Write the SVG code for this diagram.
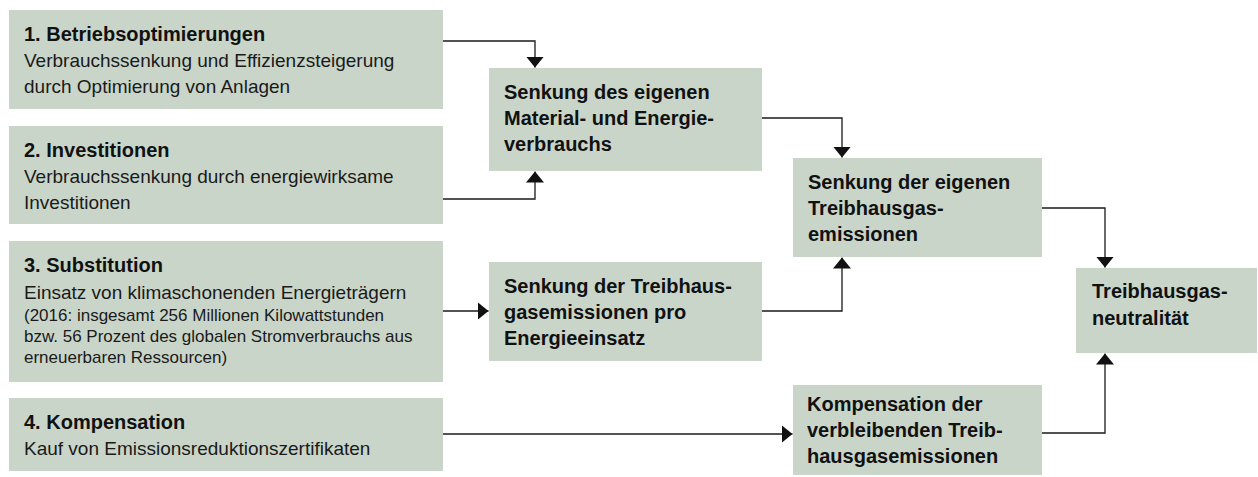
<svg xmlns="http://www.w3.org/2000/svg" width="1258" height="477" viewBox="0 0 1258 477">
<defs>
<style>
.box{fill:#c9d5c9;}
.t{font-family:"Liberation Sans",Arial,sans-serif;fill:#1a1a1a;}
.h{font-size:20px;font-weight:bold;fill:#111;}
.hr{font-size:20px;font-weight:bold;fill:#111;}
.b{font-size:19px;}
.s{font-size:17px;}
.c{fill:none;stroke:#1a1a1a;stroke-width:1.3;marker-end:url(#ah);}
</style>
<marker id="ah" markerUnits="userSpaceOnUse" markerWidth="11" markerHeight="18" refX="11" refY="9" orient="auto">
<path d="M0,0 L11,9 L0,18 Z" fill="#111"/>
</marker>
</defs>
<rect width="1258" height="477" fill="#ffffff"/>
<g id="connectors">
<path class="c" d="M443,41 H535 V67.5"/>
<path class="c" d="M443,199 H535 V171.5"/>
<path class="c" d="M443,311 H488.5"/>
<path class="c" d="M443,434 H792.5"/>
<path class="c" d="M762,118 H842 V157.5"/>
<path class="c" d="M762,311 H842 V257.5"/>
<path class="c" d="M1042,208 H1105 V267.5"/>
<path class="c" d="M1042,433 H1105 V353.5"/>
</g>
<g id="n1">
<rect class="box" x="9" y="10" width="434" height="99"/>
<text class="t h" x="24" y="40.5">1. Betriebsoptimierungen</text>
<text class="t b" x="24" y="66.5">Verbrauchssenkung und Effizienzsteigerung</text>
<text class="t b" x="24" y="92.5">durch Optimierung von Anlagen</text>
</g>
<g id="n2">
<rect class="box" x="9" y="126" width="434" height="98"/>
<text class="t h" x="24" y="156.5">2. Investitionen</text>
<text class="t b" x="24" y="182.5">Verbrauchssenkung durch energiewirksame</text>
<text class="t b" x="24" y="208.5">Investitionen</text>
</g>
<g id="n3">
<rect class="box" x="9" y="241" width="434" height="141"/>
<text class="t h" x="24" y="272">3. Substitution</text>
<text class="t b" x="24" y="298.5">Einsatz von klimaschonenden Energieträgern</text>
<text class="t s" x="24" y="321">(2016: insgesamt 256 Millionen Kilowattstunden</text>
<text class="t s" x="24" y="342">bzw. 56 Prozent des globalen Stromverbrauchs aus</text>
<text class="t s" x="24" y="363">erneuerbaren Ressourcen)</text>
</g>
<g id="n4">
<rect class="box" x="9" y="398" width="434" height="73"/>
<text class="t h" x="24" y="429">4. Kompensation</text>
<text class="t b" x="24" y="455">Kauf von Emissionsreduktionszertifikaten</text>
</g>
<g id="nA">
<rect class="box" x="489" y="68" width="273" height="103"/>
<text class="t hr" x="504" y="99">Senkung des eigenen</text>
<text class="t hr" x="504" y="125">Material- und Energie-</text>
<text class="t hr" x="504" y="151">verbrauchs</text>
</g>
<g id="nB">
<rect class="box" x="489" y="262" width="273" height="99"/>
<text class="t hr" x="504" y="293">Senkung der Treibhaus-</text>
<text class="t hr" x="504" y="319">gasemissionen pro</text>
<text class="t hr" x="504" y="345">Energieeinsatz</text>
</g>
<g id="nC">
<rect class="box" x="793" y="158" width="249" height="99"/>
<text class="t hr" x="808" y="189">Senkung der eigenen</text>
<text class="t hr" x="808" y="215">Treibhausgas-</text>
<text class="t hr" x="808" y="241">emissionen</text>
</g>
<g id="nD">
<rect class="box" x="1076" y="268" width="181" height="85"/>
<text class="t hr" x="1092" y="298">Treibhausgas-</text>
<text class="t hr" x="1092" y="325">neutralität</text>
</g>
<g id="nE">
<rect class="box" x="793" y="385" width="249" height="90"/>
<text class="t hr" x="807" y="411">Kompensation der</text>
<text class="t hr" x="807" y="437">verbleibenden Treib-</text>
<text class="t hr" x="807" y="463">hausgasemissionen</text>
</g>
</svg>
